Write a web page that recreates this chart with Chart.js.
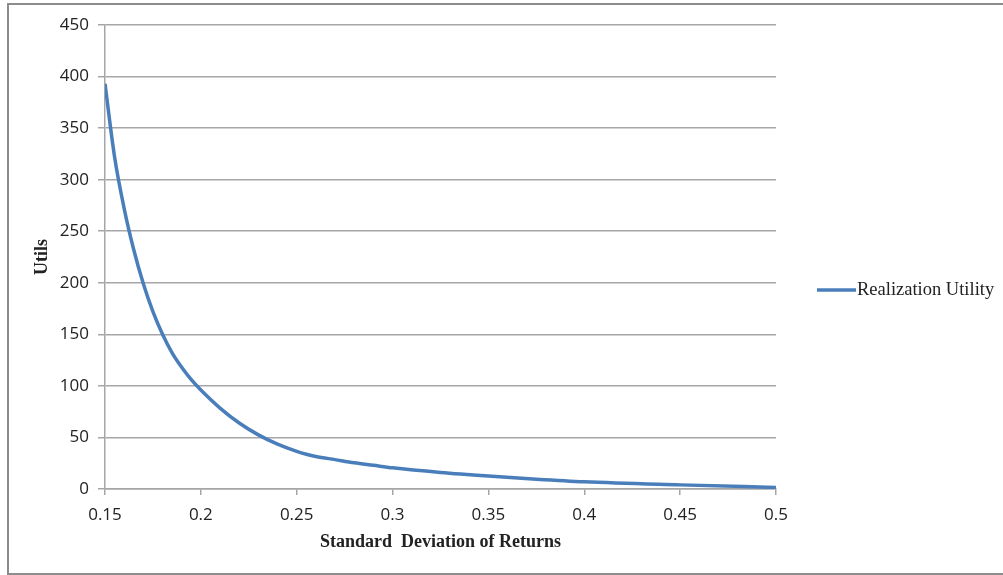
<!DOCTYPE html>
<html>
<head>
<meta charset="utf-8">
<title>Realization Utility</title>
<script src="https://cdn.jsdelivr.net/npm/chart.js@4/dist/chart.umd.min.js"></script>
<style>
    html, body { margin: 0; padding: 0; background: #ffffff; }
    #wrap { position: relative; width: 1003px; height: 575px; }
</style>
</head>
<body>
<div id="wrap"><canvas id="utilityChart" width="1003" height="575"></canvas></div>
<script>
// Dados
const sigmaValues = [0.15, 0.155, 0.16, 0.165, 0.17, 0.175, 0.18, 0.185, 0.19, 0.195, 0.2, 0.21, 0.22, 0.23, 0.24, 0.25, 0.255, 0.26, 0.27, 0.28, 0.29, 0.3, 0.325, 0.35, 0.375, 0.4, 0.45, 0.5];
const utilValues = [393, 322, 272, 232, 199, 172, 150, 132, 118, 106, 96, 78.5, 64, 52.5, 43.5, 36.5, 33.7, 31.5, 28.5, 25.5, 23, 20.5, 16, 12.5, 9.5, 7, 4, 1.5];
const yTicks = [0, 50, 100, 150, 200, 250, 300, 350, 400, 450];
const xTicks = [0.15, 0.2, 0.25, 0.3, 0.35, 0.4, 0.45, 0.5];
const seriesName = 'Realization Utility';

const colors = {
    line: '#4a7ebb',
    grid: '#a6a6a6',
    frame: '#8c8c8c',
    text: '#222222'
};

// Moldura do gráfico e legenda
const framePlugin = {
    id: 'frame',
    beforeDraw(chart) {
        const ctx = chart.ctx;
        ctx.save();
        ctx.strokeStyle = colors.frame;
        ctx.lineWidth = 2;
        ctx.beginPath();
        ctx.moveTo(1003, 4);
        ctx.lineTo(8, 4);
        ctx.lineTo(8, 574);
        ctx.lineTo(1003, 574);
        ctx.stroke();
        ctx.restore();
    },
    afterDraw(chart) {
        const ctx = chart.ctx;
        const ds = chart.data.datasets[0];
        const y = 290;
        ctx.save();
        ctx.strokeStyle = ds.borderColor;
        ctx.lineWidth = 3.5;
        ctx.beginPath();
        ctx.moveTo(817, y);
        ctx.lineTo(856, y);
        ctx.stroke();
        ctx.fillStyle = colors.text;
        ctx.font = "18.5px 'Liberation Serif', serif";
        ctx.textBaseline = 'middle';
        ctx.fillText(ds.label, 857, y);
        ctx.restore();
    }
};

const tickFont = { family: "'Open Sans', sans-serif", size: 17 };
const titleFont = { family: "'Liberation Serif', serif", size: 18, weight: 'bold' };

new Chart(document.getElementById('utilityChart'), {
    type: 'line',
    data: {
        datasets: [{
            label: seriesName,
            data: sigmaValues.map((s, i) => ({ x: s, y: utilValues[i] })),
            borderColor: colors.line,
            borderWidth: 3.5,
            pointRadius: 0,
            cubicInterpolationMode: 'monotone',
            fill: false
        }]
    },
    options: {
        responsive: false,
        animation: false,
        layout: { padding: { left: 8, right: 227, top: 25, bottom: 0 } },
        plugins: {
            legend: { display: false },
            tooltip: { enabled: false }
        },
        scales: {
            x: {
                type: 'linear',
                min: 0.15,
                max: 0.5,
                afterBuildTicks(scale) {
                    scale.ticks = xTicks.map(v => ({ value: v }));
                },
                afterFit(scale) { scale.height = 86; },
                ticks: {
                    font: tickFont,
                    color: colors.text,
                    padding: 10,
                    maxRotation: 0,
                    callback: v => String(v)
                },
                grid: {
                    drawOnChartArea: false,
                    drawTicks: true,
                    tickLength: 6,
                    color: colors.grid,
                    lineWidth: 1.5
                },
                border: { display: true, color: colors.grid, width: 1.5 },
                title: {
                    display: true,
                    text: 'Standard  Deviation of Returns',
                    font: titleFont,
                    color: colors.text,
                    padding: { top: 0, bottom: 22 }
                }
            },
            y: {
                min: 0,
                max: 450,
                afterBuildTicks(scale) {
                    scale.ticks = yTicks.map(v => ({ value: v }));
                },
                afterFit(scale) { scale.width = 97; },
                ticks: {
                    font: tickFont,
                    color: colors.text,
                    padding: 9
                },
                grid: {
                    drawOnChartArea: true,
                    drawTicks: true,
                    tickLength: 7,
                    color: colors.grid,
                    lineWidth: 1.5
                },
                border: { display: true, color: colors.grid, width: 1.5 },
                title: {
                    display: true,
                    text: 'Utils',
                    font: titleFont,
                    color: colors.text,
                    padding: { top: 24, bottom: 0 }
                }
            }
        }
    },
    plugins: [framePlugin]
});
</script>
</body>
</html>
